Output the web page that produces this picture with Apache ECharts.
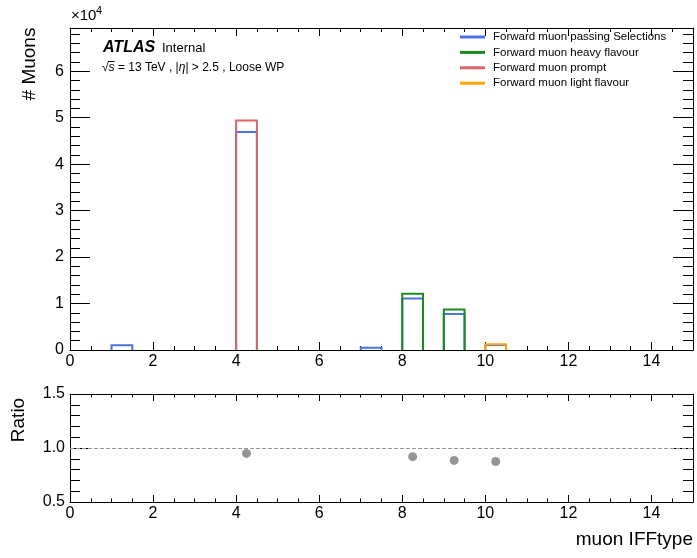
<!DOCTYPE html>
<html>
<head>
<meta charset="utf-8">
<script src="https://cdn.jsdelivr.net/npm/echarts@6/dist/echarts.min.js"></script>
<style>
  html, body { margin: 0; padding: 0; background: #fff; }
  #chart { width: 697px; height: 558px; }
</style>
</head>
<body>
<div id="chart"></div>
<script>
// bins of muon IFFtype (lower edges), width 0.5
const binLow = [1, 4, 7, 8, 9, 10];
const binWidth = 0.5;
const passing = [1000, 46900, 500, 11100, 7750, 1090];
const heavyFlavour = [0, 0, 0, 12100, 8740, 0];
const prompt = [0, 49400, 0, 0, 0, 0];
const lightFlavour = [0, 0, 0, 0, 0, 1250];

const ratioX = [4.25, 8.25, 9.25, 10.25];
const ratioY = [0.95, 0.92, 0.885, 0.875];

const xTicks = [0, 2, 4, 6, 8, 10, 12, 14];
const yTicks = [0, 1, 2, 3, 4, 5, 6];
const ratioTicks = ['0.5', '1.0', '1.5'];

const FONT = '"Liberation Sans", Arial, Helvetica, sans-serif';

function histData(vals) {
  return binLow
    .map((lo, i) => [lo, lo + binWidth, vals[i]])
    .filter(d => d[2] > 0);
}

function makeAxis(gridIndex, pos, min, max, step, len, showLine, label) {
  return {
    type: 'value',
    gridIndex: gridIndex,
    position: pos,
    min: min,
    max: max,
    interval: step,
    axisLine: { show: showLine, onZero: false, lineStyle: { color: '#000', width: 1 } },
    axisTick: { show: true, inside: true, length: len, lineStyle: { color: '#000', width: 1 } },
    axisLabel: label
      ? Object.assign({ show: true, color: '#000', fontSize: 16, fontFamily: FONT }, label)
      : { show: false },
    splitLine: { show: false }
  };
}

function histSeries(name, color, vals) {
  return {
    name: name,
    type: 'custom',
    xAxisIndex: 0,
    yAxisIndex: 0,
    itemStyle: { color: color },
    data: histData(vals),
    renderItem: function (params, api) {
      const a = api.coord([api.value(0), 0]);
      const b = api.coord([api.value(1), api.value(2)]);
      return {
        type: 'polyline',
        shape: { points: [[a[0], a[1]], [a[0], b[1]], [b[0], b[1]], [b[0], a[1]]] },
        style: { stroke: color, fill: null, lineWidth: 2 }
      };
    }
  };
}

const xLabel = {
  margin: 4,
  showMaxLabel: false,
  formatter: v => (xTicks.indexOf(v) >= 0 ? String(v) : '')
};

const chart = echarts.init(document.getElementById('chart'));
chart.setOption({
  animation: false,
  backgroundColor: '#fff',
  grid: [
    { left: 70, right: 4, top: 28, bottom: 208 },
    { left: 70, right: 4, top: 394, bottom: 56 }
  ],
  xAxis: [
    makeAxis(0, 'bottom', 0, 15, 2, 8, true, xLabel),
    makeAxis(0, 'bottom', 0, 15, 0.5, 4, false, null),
    makeAxis(0, 'top', 0, 15, 2, 8, true, null),
    makeAxis(0, 'top', 0, 15, 0.5, 4, false, null),
    makeAxis(1, 'bottom', 0, 15, 2, 7, true, xLabel),
    makeAxis(1, 'bottom', 0, 15, 0.5, 3.5, false, null),
    makeAxis(1, 'top', 0, 15, 2, 7, true, null),
    makeAxis(1, 'top', 0, 15, 0.5, 3.5, false, null)
  ],
  yAxis: [
    makeAxis(0, 'left', 0, 69300, 10000, 20, true, {
      margin: 6,
      showMaxLabel: false,
      formatter: v => (yTicks.indexOf(v / 10000) >= 0 ? String(v / 10000) : '')
    }),
    makeAxis(0, 'left', 0, 69300, 2000, 10, false, null),
    makeAxis(0, 'right', 0, 69300, 10000, 20, true, null),
    makeAxis(0, 'right', 0, 69300, 2000, 10, false, null),
    makeAxis(1, 'left', 0.5, 1.5, 0.5, 20, true, {
      margin: 5,
      formatter: v => ratioTicks[Math.round((v - 0.5) / 0.5)]
    }),
    makeAxis(1, 'left', 0.5, 1.5, 0.1, 10, false, null),
    makeAxis(1, 'right', 0.5, 1.5, 0.5, 20, true, null),
    makeAxis(1, 'right', 0.5, 1.5, 0.1, 10, false, null)
  ],
  legend: {
    orient: 'vertical',
    left: 460,
    top: 30,
    padding: 0,
    itemWidth: 25,
    itemHeight: 3,
    itemGap: 1.4,
    icon: 'rect',
    textStyle: { color: '#000', fontSize: 11.5, fontFamily: FONT, lineHeight: 14, padding: [0, 0, 0, 3] },
    data: [
      'Forward muon passing Selections',
      'Forward muon heavy flavour',
      'Forward muon prompt',
      'Forward muon light flavour'
    ]
  },
  graphic: [
    { type: 'text', left: 71, top: 8, style: { text: '×10', font: '15px ' + FONT, fill: '#000' } },
    { type: 'text', left: 96, top: 5, style: { text: '4', font: '11px ' + FONT, fill: '#000' } },
    { type: 'text', x: 30, y: 64, rotation: Math.PI / 2,
      style: { text: '# Muons', font: '19px ' + FONT, fill: '#000', align: 'center', verticalAlign: 'middle' } },
    { type: 'text', x: 19, y: 420, rotation: Math.PI / 2,
      style: { text: 'Ratio', font: '19px ' + FONT, fill: '#000', align: 'center', verticalAlign: 'middle' } },
    { type: 'text', x: 693, y: 540,
      style: { text: 'muon IFFtype', font: '19px ' + FONT, fill: '#000', align: 'right', verticalAlign: 'middle' } },
    { type: 'text', x: 103, y: 48,
      style: { text: 'ATLAS', font: 'italic bold 16px ' + FONT, fill: '#000', verticalAlign: 'middle' } },
    { type: 'text', x: 162, y: 48,
      style: { text: 'Internal', font: '13px ' + FONT, fill: '#000', verticalAlign: 'middle' } },
    { type: 'text', x: 102, y: 68,
      style: {
        text: '√{i|s} = 13 TeV , |{i|η}| > 2.5 , Loose WP',
        font: '12px ' + FONT, fill: '#000', verticalAlign: 'middle',
        rich: { i: { fontStyle: 'italic', fontSize: 12, fontFamily: FONT } }
      } },
    // overline of the square root
    { type: 'line', shape: { x1: 108, y1: 61.5, x2: 114.5, y2: 61.5 }, style: { stroke: '#000', lineWidth: 1 } }
  ],
  series: [
    histSeries('Forward muon passing Selections', '#4a72e0', passing),
    histSeries('Forward muon heavy flavour', '#1e8a1e', heavyFlavour),
    histSeries('Forward muon prompt', '#d9656d', prompt),
    histSeries('Forward muon light flavour', '#ffa500', lightFlavour),
    {
      name: 'ratio',
      type: 'scatter',
      xAxisIndex: 4,
      yAxisIndex: 4,
      symbol: 'circle',
      symbolSize: 9,
      itemStyle: { color: '#7a7a7a' },
      data: ratioX.map((x, i) => [x, ratioY[i]]),
      markLine: {
        silent: true,
        symbol: 'none',
        label: { show: false },
        lineStyle: { color: '#999', type: [4, 2], width: 1 },
        data: [{ yAxis: 1.0 }]
      }
    }
  ]
});
</script>
</body>
</html>
